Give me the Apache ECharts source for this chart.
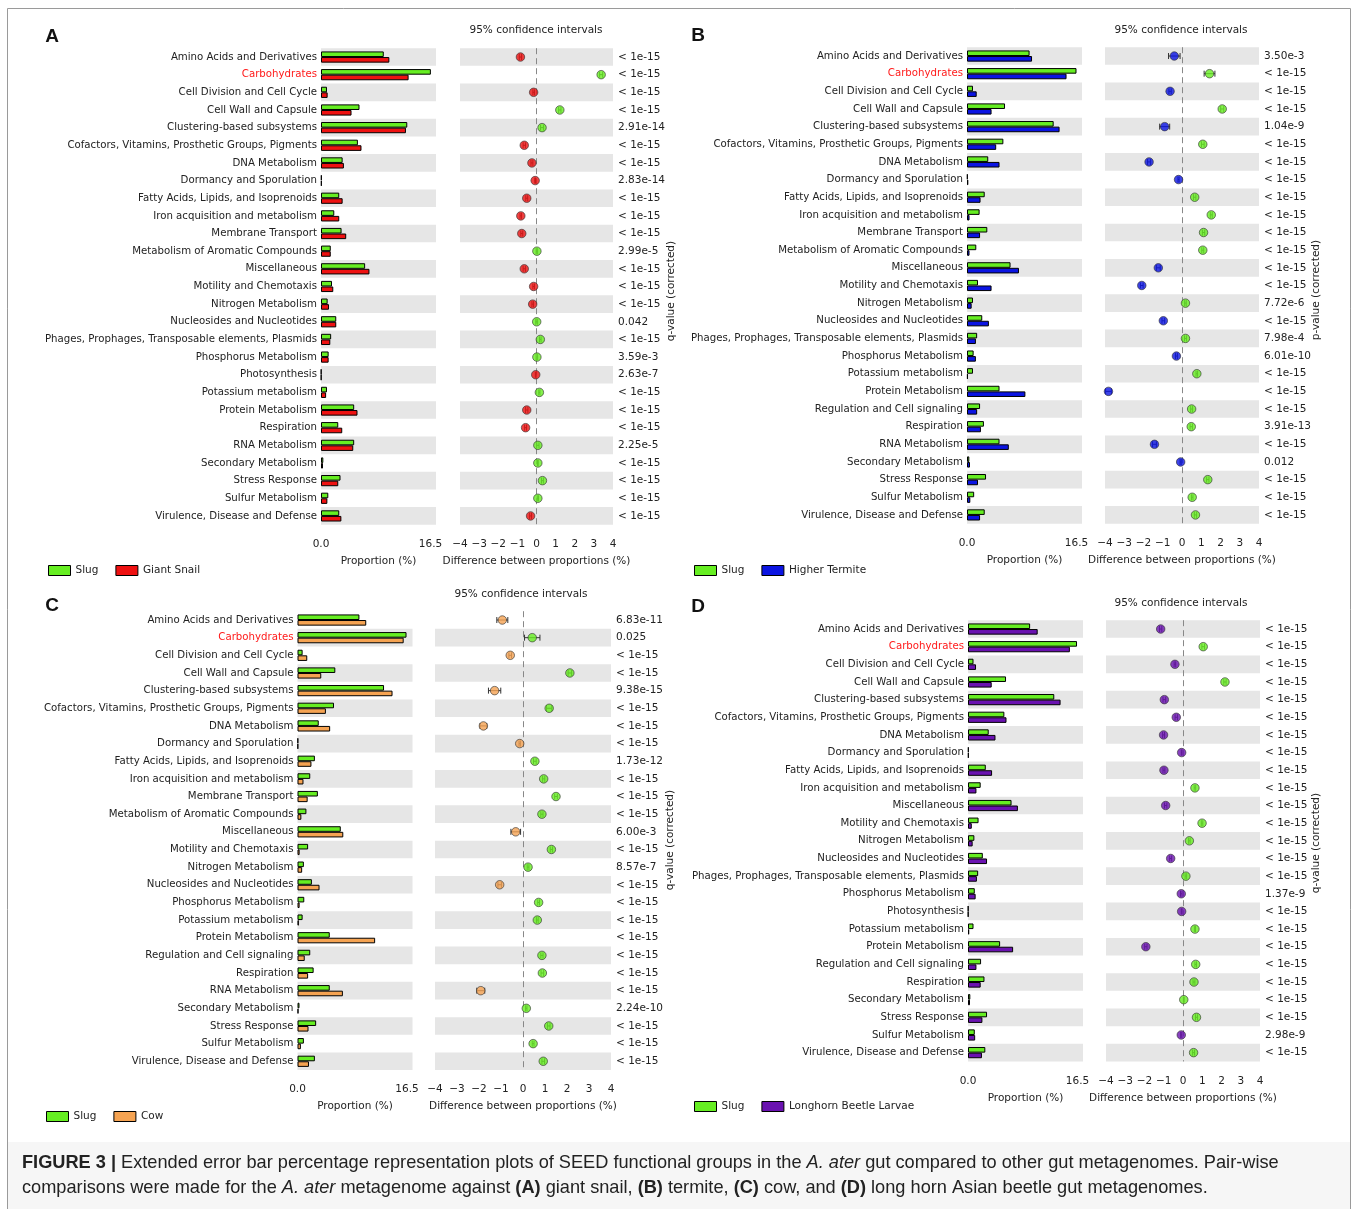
<!DOCTYPE html>
<html>
<head>
<meta charset="utf-8">
<script src="https://cdn.jsdelivr.net/npm/echarts@6/dist/echarts.min.js"></script>
<style>
html, body { margin: 0; padding: 0; background: #fff; }
#chart { width: 1357px; height: 1209px; }
</style>
</head>
<body>
<div id="chart"></div>
<script>
// ---- data ----
const catsA = ['Amino Acids and Derivatives', 'Carbohydrates', 'Cell Division and Cell Cycle', 'Cell Wall and Capsule',
    'Clustering-based subsystems', 'Cofactors, Vitamins, Prosthetic Groups, Pigments', 'DNA Metabolism',
    'Dormancy and Sporulation', 'Fatty Acids, Lipids, and Isoprenoids', 'Iron acquisition and metabolism',
    'Membrane Transport', 'Metabolism of Aromatic Compounds', 'Miscellaneous', 'Motility and Chemotaxis',
    'Nitrogen Metabolism', 'Nucleosides and Nucleotides', 'Phages, Prophages, Transposable elements, Plasmids',
    'Phosphorus Metabolism', 'Photosynthesis', 'Potassium metabolism', 'Protein Metabolism', 'Respiration',
    'RNA Metabolism', 'Secondary Metabolism', 'Stress Response', 'Sulfur Metabolism', 'Virulence, Disease and Defense'];
const slugA = [9.46, 16.56, 0.9, 5.8, 13.0, 5.56, 3.26, 0.1, 2.75, 2.0, 3.1, 1.47, 6.65, 1.66, 1.0, 2.3, 1.53, 1.15, 0.05, 0.9, 5.0, 2.6, 5.0, 0.35, 2.94, 1.1, 2.75];
const snailA = [10.3, 13.2, 1.0, 4.6, 12.8, 6.1, 3.45, 0.1, 3.26, 2.75, 3.8, 1.47, 7.3, 1.85, 1.2, 2.3, 1.4, 1.15, 0.05, 0.77, 5.5, 3.2, 4.86, 0.3, 2.6, 0.96, 3.07];
const diffA = [-0.84, 3.38, -0.15, 1.22, 0.29, -0.64, -0.24, -0.07, -0.51, -0.82, -0.77, 0.02, -0.64, -0.15, -0.2, 0.01, 0.2, 0.02, -0.04, 0.15, -0.51, -0.57, 0.07, 0.07, 0.31, 0.07, -0.31];
const ciA = [0.06, 0.08, 0.04, 0.06, 0.08, 0.06, 0.05, 0.02, 0.05, 0.04, 0.05, 0.04, 0.06, 0.04, 0.04, 0.05, 0.04, 0.04, 0.02, 0.03, 0.06, 0.05, 0.06, 0.02, 0.05, 0.03, 0.05];
const pA = ['< 1e-15', '< 1e-15', '< 1e-15', '< 1e-15', '2.91e-14', '< 1e-15', '< 1e-15', '2.83e-14', '< 1e-15', '< 1e-15',
    '< 1e-15', '2.99e-5', '< 1e-15', '< 1e-15', '< 1e-15', '0.042', '< 1e-15', '3.59e-3', '2.63e-7', '< 1e-15',
    '< 1e-15', '< 1e-15', '2.25e-5', '< 1e-15', '< 1e-15', '< 1e-15', '< 1e-15'];

const catsB = ['Amino Acids and Derivatives', 'Carbohydrates', 'Cell Division and Cell Cycle', 'Cell Wall and Capsule',
    'Clustering-based subsystems', 'Cofactors, Vitamins, Prosthetic Groups, Pigments', 'DNA Metabolism',
    'Dormancy and Sporulation', 'Fatty Acids, Lipids, and Isoprenoids', 'Iron acquisition and metabolism',
    'Membrane Transport', 'Metabolism of Aromatic Compounds', 'Miscellaneous', 'Motility and Chemotaxis',
    'Nitrogen Metabolism', 'Nucleosides and Nucleotides', 'Phages, Prophages, Transposable elements, Plasmids',
    'Phosphorus Metabolism', 'Potassium metabolism', 'Protein Metabolism', 'Regulation and Cell signaling',
    'Respiration', 'RNA Metabolism', 'Secondary Metabolism', 'Stress Response', 'Sulfur Metabolism',
    'Virulence, Disease and Defense'];
const slugB = [9.43, 16.5, 0.9, 5.73, 13.06, 5.48, 3.2, 0.1, 2.67, 1.9, 3.06, 1.4, 6.56, 1.66, 0.9, 2.3, 1.53, 1.0, 0.9, 4.9, 1.97, 2.55, 4.9, 0.35, 2.87, 1.08, 2.67];
const termiteB = [9.8, 15.0, 1.46, 3.7, 13.95, 4.4, 4.9, 0.2, 2.04, 0.38, 1.97, 0.38, 7.83, 3.7, 0.7, 3.3, 1.34, 1.34, 0.13, 8.8, 1.53, 2.1, 6.3, 0.45, 1.66, 0.5, 1.97];
const diffB = [-0.4, 1.43, -0.62, 2.09, -0.9, 1.08, -1.71, -0.18, 0.66, 1.52, 1.12, 1.08, -1.23, -2.09, 0.18, -0.97, 0.18, -0.29, 0.77, -3.82, 0.5, 0.48, -1.43, -0.07, 1.34, 0.53, 0.7];
const ciB = [0.3, 0.28, 0.06, 0.08, 0.26, 0.07, 0.08, 0.03, 0.06, 0.05, 0.06, 0.05, 0.1, 0.07, 0.04, 0.07, 0.05, 0.05, 0.04, 0.15, 0.05, 0.06, 0.1, 0.03, 0.06, 0.04, 0.06];
const pB = ['3.50e-3', '< 1e-15', '< 1e-15', '< 1e-15', '1.04e-9', '< 1e-15', '< 1e-15', '< 1e-15', '< 1e-15', '< 1e-15',
    '< 1e-15', '< 1e-15', '< 1e-15', '< 1e-15', '7.72e-6', '< 1e-15', '7.98e-4', '6.01e-10', '< 1e-15', '< 1e-15',
    '< 1e-15', '3.91e-13', '< 1e-15', '0.012', '< 1e-15', '< 1e-15', '< 1e-15'];

const catsC = ['Amino Acids and Derivatives', 'Carbohydrates', 'Cell Division and Cell Cycle', 'Cell Wall and Capsule',
    'Clustering-based subsystems', 'Cofactors, Vitamins, Prosthetic Groups, Pigments', 'DNA Metabolism',
    'Dormancy and Sporulation', 'Fatty Acids, Lipids, and Isoprenoids', 'Iron acquisition and metabolism',
    'Membrane Transport', 'Metabolism of Aromatic Compounds', 'Miscellaneous', 'Motility and Chemotaxis',
    'Nitrogen Metabolism', 'Nucleosides and Nucleotides', 'Phosphorus Metabolism', 'Potassium metabolism',
    'Protein Metabolism', 'Regulation and Cell signaling', 'Respiration', 'RNA Metabolism', 'Secondary Metabolism',
    'Stress Response', 'Sulfur Metabolism', 'Virulence, Disease and Defense'];
const slugC = [9.33, 16.43, 0.77, 5.7, 13.04, 5.5, 3.2, 0.1, 2.62, 1.92, 3.07, 1.34, 6.52, 1.6, 0.96, 2.17, 1.02, 0.77, 4.86, 1.92, 2.43, 4.86, 0.3, 2.81, 0.96, 2.62];
const cowC = [10.36, 16.0, 1.47, 3.58, 14.32, 4.28, 4.92, 0.1, 2.1, 0.9, 1.53, 0.58, 6.9, 0.32, 0.7, 3.32, 0.32, 0.2, 11.7, 1.09, 1.6, 6.84, 0.15, 1.66, 0.51, 1.73];
const diffC = [-0.94, 0.42, -0.58, 2.13, -1.29, 1.19, -1.8, -0.15, 0.54, 0.94, 1.5, 0.86, -0.33, 1.29, 0.23, -1.06, 0.71, 0.65, -6.84, 0.86, 0.88, -1.92, 0.15, 1.17, 0.46, 0.92];
const ciC = [0.25, 0.35, 0.06, 0.08, 0.28, 0.12, 0.15, 0.03, 0.06, 0.05, 0.06, 0.05, 0.22, 0.05, 0.04, 0.08, 0.04, 0.04, 0, 0.05, 0.06, 0.18, 0.03, 0.06, 0.04, 0.06];
const pC = ['6.83e-11', '0.025', '< 1e-15', '< 1e-15', '9.38e-15', '< 1e-15', '< 1e-15', '< 1e-15', '1.73e-12', '< 1e-15',
    '< 1e-15', '< 1e-15', '6.00e-3', '< 1e-15', '8.57e-7', '< 1e-15', '< 1e-15', '< 1e-15', '< 1e-15', '< 1e-15',
    '< 1e-15', '< 1e-15', '2.24e-10', '< 1e-15', '< 1e-15', '< 1e-15'];

const catsD = ['Amino Acids and Derivatives', 'Carbohydrates', 'Cell Division and Cell Cycle', 'Cell Wall and Capsule',
    'Clustering-based subsystems', 'Cofactors, Vitamins, Prosthetic Groups, Pigments', 'DNA Metabolism',
    'Dormancy and Sporulation', 'Fatty Acids, Lipids, and Isoprenoids', 'Iron acquisition and metabolism',
    'Miscellaneous', 'Motility and Chemotaxis', 'Nitrogen Metabolism', 'Nucleosides and Nucleotides',
    'Phages, Prophages, Transposable elements, Plasmids', 'Phosphorus Metabolism', 'Photosynthesis',
    'Potassium metabolism', 'Protein Metabolism', 'Regulation and Cell signaling', 'Respiration',
    'Secondary Metabolism', 'Stress Response', 'Sulfur Metabolism', 'Virulence, Disease and Defense'];
const slugD = [9.36, 16.43, 0.83, 5.73, 13.0, 5.48, 3.12, 0.1, 2.68, 1.91, 6.56, 1.59, 0.96, 2.23, 1.53, 1.02, 0.05, 0.83, 4.84, 1.97, 2.48, 0.35, 2.87, 1.02, 2.61];
const beetleD = [10.5, 15.35, 1.21, 3.57, 13.95, 5.8, 4.14, 0.1, 3.63, 1.27, 7.52, 0.57, 0.7, 2.87, 1.34, 1.15, 0.05, 0.19, 6.8, 1.27, 1.91, 0.3, 2.17, 1.08, 2.1];
const diffD = [-1.16, 1.05, -0.42, 2.18, -0.97, -0.35, -1.01, -0.07, -0.99, 0.62, -0.9, 0.99, 0.33, -0.64, 0.15, -0.09, -0.07, 0.62, -1.93, 0.66, 0.57, 0.04, 0.7, -0.09, 0.55];
const ciD = [0.06, 0.07, 0.04, 0.06, 0.07, 0.06, 0.05, 0.02, 0.05, 0.04, 0.06, 0.04, 0.04, 0.05, 0.04, 0.04, 0.02, 0.03, 0.06, 0.04, 0.05, 0.02, 0.05, 0.03, 0.05];
const pD = ['< 1e-15', '< 1e-15', '< 1e-15', '< 1e-15', '< 1e-15', '< 1e-15', '< 1e-15', '< 1e-15', '< 1e-15', '< 1e-15',
    '< 1e-15', '< 1e-15', '< 1e-15', '< 1e-15', '< 1e-15', '1.37e-9', '< 1e-15', '< 1e-15', '< 1e-15', '< 1e-15',
    '< 1e-15', '< 1e-15', '< 1e-15', '2.98e-9', '< 1e-15'];

const propTicks = [0, 16.5];
const diffTicks = [-4, -3, -2, -1, 0, 1, 2, 3, 4];

// ---- styling ----
const GREEN = '#66ee22';
const FONT = 'DejaVu Sans';
const TXT = '#222';
const BAND = '#e6e6e6';
const ROW = 17.65;

const panels = [
    { letter: 'A', cats: catsA, slug: slugA, other: snailA, otherName: 'Giant Snail', otherColor: '#ee1111',
      diff: diffA, ci: ciA, p: pA, pLabel: 'q-value (corrected)',
      top: 48.2, barLeft: 321, dotLeft: 460, dotWidth: 153, legendLeft: 48, legendTop: 565,
      letterPos: [52, 37], titlePos: [536, 30], qPos: [671, 291] },
    { letter: 'B', cats: catsB, slug: slugB, other: termiteB, otherName: 'Higher Termite', otherColor: '#0b14e2',
      diff: diffB, ci: ciB, p: pB, pLabel: 'p-value (corrected)',
      top: 47.2, barLeft: 967, dotLeft: 1105, dotWidth: 154, legendLeft: 694, legendTop: 565,
      letterPos: [698, 36], titlePos: [1181, 30], qPos: [1316, 290] },
    { letter: 'C', cats: catsC, slug: slugC, other: cowC, otherName: 'Cow', otherColor: '#f5a352',
      diff: diffC, ci: ciC, p: pC, pLabel: 'q-value (corrected)',
      top: 611.2, barLeft: 297.5, dotLeft: 435, dotWidth: 176, legendLeft: 46, legendTop: 1111,
      letterPos: [52, 606], titlePos: [521, 594], qPos: [670, 840] },
    { letter: 'D', cats: catsD, slug: slugD, other: beetleD, otherName: 'Longhorn Beetle Larvae', otherColor: '#6a12b0',
      diff: diffD, ci: ciD, p: pD, pLabel: 'q-value (corrected)',
      top: 620.2, barLeft: 968, dotLeft: 1106, dotWidth: 154, legendLeft: 694, legendTop: 1101,
      letterPos: [698, 607], titlePos: [1181, 603], qPos: [1316, 843] }
];

function renderCi(params, api) {
    const half = api.value(2);
    if (!half) return;
    const y = api.coord([0, api.value(1)])[1];
    const a = api.coord([api.value(0) - half, api.value(1)])[0];
    const b = api.coord([api.value(0) + half, api.value(1)])[0];
    const st = { stroke: '#333', lineWidth: 1 };
    return {
        type: 'group',
        children: [
            { type: 'line', shape: { x1: a, y1: y, x2: b, y2: y }, style: st },
            { type: 'line', shape: { x1: a, y1: y - 3, x2: a, y2: y + 3 }, style: st },
            { type: 'line', shape: { x1: b, y1: y - 3, x2: b, y2: y + 3 }, style: st }
        ]
    };
}

const grid = [], xAxis = [], yAxis = [], series = [], legend = [], graphic = [];

// frame and caption
graphic.push({ type: 'rect', shape: { x: 7.5, y: 8.5, width: 1343, height: 1230 }, style: { fill: 'none', stroke: '#9a9a9a', lineWidth: 1 }, z: -10 });
graphic.push({ type: 'rect', shape: { x: 8, y: 1142, width: 1342, height: 80 }, style: { fill: '#f6f6f6' }, z: -11 });
const capRich = {
    b: { fontFamily: 'Liberation Sans', fontSize: 18.2, fontWeight: 'bold', fill: '#222' },
    i: { fontFamily: 'Liberation Sans', fontSize: 18.2, fontStyle: 'italic', fill: '#222' }
};
graphic.push({ type: 'text', left: 22, top: 1154, style: {
    text: '{b|FIGURE 3 |} Extended error bar percentage representation plots of SEED functional groups in the {i|A. ater} gut compared to other gut metagenomes. Pair-wise',
    font: '18.2px "Liberation Sans"', fill: '#222', rich: capRich } });
graphic.push({ type: 'text', left: 22, top: 1179, style: {
    text: 'comparisons were made for the {i|A. ater} metagenome against {b|(A)} giant snail, {b|(B)} termite, {b|(C)} cow, and {b|(D)} long horn Asian beetle gut metagenomes.',
    font: '18.2px "Liberation Sans"', fill: '#222', rich: capRich } });

panels.forEach((pn, k) => {
    const n = pn.cats.length;
    const h = n * ROW;
    const bands = n % 2 ? [BAND, 'rgba(0,0,0,0)'] : ['rgba(0,0,0,0)', BAND];
    const gb = k * 2, gd = k * 2 + 1;

    grid.push({ left: pn.barLeft, top: pn.top, width: 115, height: h, outerBoundsMode: 'none' });
    grid.push({ left: pn.dotLeft, top: pn.top, width: pn.dotWidth, height: h, outerBoundsMode: 'none' });

    const xBase = {
        offset: 8,
        axisLine: { lineStyle: { color: '#aaa', width: 2 } },
        axisTick: { inside: true, length: 4, lineStyle: { color: '#999' } },
        axisLabel: { fontFamily: FONT, fontSize: 10.5, color: TXT, margin: 6 },
        splitLine: { show: false },
        nameLocation: 'middle', nameGap: 23,
        nameTextStyle: { fontFamily: FONT, fontSize: 10.5, color: TXT }
    };
    xAxis.push(Object.assign({}, xBase, {
        gridIndex: gb, type: 'value', min: 0, max: 17.33, name: 'Proportion (%)',
        axisTick: Object.assign({}, xBase.axisTick, { customValues: propTicks }),
        axisLabel: Object.assign({}, xBase.axisLabel, { customValues: propTicks, formatter: v => v.toFixed(1) })
    }));
    xAxis.push(Object.assign({}, xBase, {
        gridIndex: gd, type: 'value', min: -4, max: 4, interval: 1, name: 'Difference between proportions (%)',
        axisTick: Object.assign({}, xBase.axisTick, { customValues: diffTicks }),
        axisLabel: Object.assign({}, xBase.axisLabel, { customValues: diffTicks, formatter: v => String(v).replace('-', '\u2212') })
    }));

    const yBase = {
        type: 'category', data: pn.cats, inverse: true,
        axisLine: { show: false }, axisTick: { show: false },
        splitLine: { show: false },
        splitArea: { show: true, interval: 0, areaStyle: { color: bands } }
    };
    yAxis.push(Object.assign({}, yBase, {
        gridIndex: gb, position: 'left',
        axisLabel: {
            interval: 0, margin: 4, fontFamily: FONT, fontSize: 10.2, color: TXT,
            formatter: v => v === 'Carbohydrates' ? '{red|' + v + '}' : v,
            rich: { red: { color: '#ff1a1a', fontFamily: FONT, fontSize: 10.2 } }
        }
    }));
    yAxis.push(Object.assign({}, yBase, {
        gridIndex: gd, position: 'right',
        axisLabel: { interval: 0, margin: 5, fontFamily: FONT, fontSize: 10.5, color: TXT, formatter: (v, i) => pn.p[i] }
    }));

    const barStyle = { borderColor: '#000', borderWidth: 1 };
    series.push({
        name: 'Slug', type: 'bar', xAxisIndex: gb, yAxisIndex: gb, data: pn.slug,
        barWidth: 5.6, barGap: '0%', itemStyle: Object.assign({ color: GREEN }, barStyle)
    });
    series.push({
        name: pn.otherName, type: 'bar', xAxisIndex: gb, yAxisIndex: gb, data: pn.other,
        barWidth: 5.6, barGap: '0%', itemStyle: Object.assign({ color: pn.otherColor }, barStyle)
    });
    series.push({
        name: 'ci' + pn.letter, type: 'custom', xAxisIndex: gd, yAxisIndex: gd, clip: true, z: 3,
        renderItem: renderCi, encode: { x: 0, y: 1 },
        data: pn.diff.map((d, j) => [d, j, pn.ci[j]])
    });
    series.push({
        name: 'diff' + pn.letter, type: 'scatter', xAxisIndex: gd, yAxisIndex: gd, clip: true, z: 4,
        symbolSize: 8.5,
        data: pn.diff.map((d, j) => [d, j]),
        itemStyle: {
            borderColor: '#333', borderWidth: 0.8,
            color: p => p.value[0] >= 0 ? GREEN : pn.otherColor
        },
        markLine: {
            silent: true, symbol: 'none', z: 2,
            lineStyle: { color: '#888', type: [6, 4], width: 1 },
            label: { show: false },
            data: [{ xAxis: 0 }]
        }
    });

    legend.push({
        data: ['Slug', pn.otherName], left: pn.legendLeft, top: pn.legendTop, padding: 0,
        icon: 'rect', itemWidth: 22, itemHeight: 10, itemGap: 17,
        itemStyle: { borderColor: '#000', borderWidth: 1 },
        textStyle: { fontFamily: FONT, fontSize: 10.5, color: TXT },
        selectedMode: false
    });

    graphic.push({ type: 'text', x: pn.letterPos[0], y: pn.letterPos[1],
        style: { text: pn.letter, font: 'bold 19px "Liberation Sans"', fill: '#111', align: 'center', verticalAlign: 'middle' } });
    graphic.push({ type: 'text', x: pn.titlePos[0], y: pn.titlePos[1],
        style: { text: '95% confidence intervals', font: '10.5px "DejaVu Sans"', fill: TXT, align: 'center', verticalAlign: 'middle' } });
    graphic.push({ type: 'text', x: pn.qPos[0], y: pn.qPos[1], rotation: Math.PI / 2,
        style: { text: pn.pLabel, font: '10.5px "DejaVu Sans"', fill: TXT, align: 'center', verticalAlign: 'middle' } });
});

const chart = echarts.init(document.getElementById('chart'));
chart.setOption({
    animation: false,
    backgroundColor: '#fff',
    grid: grid,
    xAxis: xAxis,
    yAxis: yAxis,
    legend: legend,
    series: series,
    graphic: graphic
});
</script>
</body>
</html>
